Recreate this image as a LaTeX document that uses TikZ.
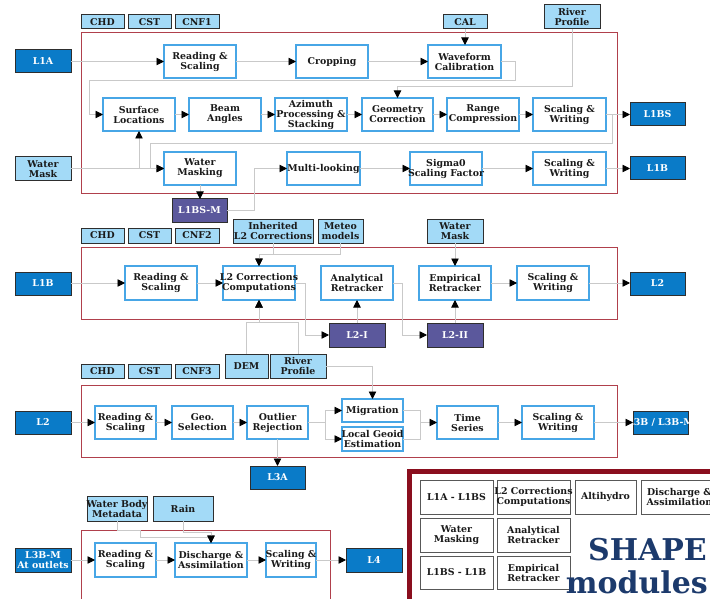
\documentclass[tikz,border=0pt]{standalone}
\usepackage{fontspec}
\setmainfont{DejaVu Serif}
\usetikzlibrary{arrows.meta}

\definecolor{procblue}{HTML}{47A6E6}
\definecolor{inpfill}{HTML}{A3DAF7}
\definecolor{outfill}{HTML}{0A7BC8}
\definecolor{midfill}{HTML}{5B589C}
\definecolor{edgedark}{HTML}{2E2E2E}
\definecolor{framered}{HTML}{B0404C}
\definecolor{legred}{HTML}{8A0E1E}
\definecolor{linegray}{HTML}{C9C9C9}
\definecolor{txtdark}{HTML}{1A1A1A}
\definecolor{navy}{HTML}{1C3A6C}

\tikzset{
  box/.style={inner sep=0pt, outer sep=0pt},
  proc/.style={box, draw=procblue, line width=1.2pt, fill=white},
  inp/.style={box, draw=edgedark, line width=1pt, fill=inpfill},
  outp/.style={box, draw=edgedark, line width=1pt, fill=outfill},
  mid/.style={box, draw=edgedark, line width=1pt, fill=midfill},
  leg/.style={box, draw=edgedark!80, line width=0.9pt, fill=white},
  lbl/.style={inner sep=0pt, align=center, text=txtdark,
    font=\fontsize{9.4}{10}\selectfont\bfseries},
  conn/.style={draw=linegray, line width=0.9pt,
    -{Triangle[length=7.5pt,width=7.5pt,color=black]}},
  sect/.style={draw=framered, line width=1pt},
}

% box with corners (x1,y1) and (x2,y2), label centred on it
\newcommand\bx[8][]{%
  \node[#2, minimum width={(#6-#4)*1pt}, minimum height={(#7-#5)*1pt},
        label={[lbl,#1]center:{#8}}] (#3) at ({(#4+#6)/2},{(#5+#7)/2}) {};}

\begin{document}
\begin{tikzpicture}[x=1pt,y=-1pt]
\useasboundingbox (0,0) rectangle (710,599);
\clip (0,0) rectangle (710,599);
\fill[white] (0,0) rectangle (710,599);

% ---------------- L1A -> L1BS / L1B ----------------
\draw[sect] (81,33) rectangle (617,194);
\bx{inp}{chdA}{81}{15}{124}{29}{CHD}
\bx{inp}{cstA}{128}{15}{171}{29}{CST}
\bx{inp}{cnfA}{175}{15}{219}{29}{CNF1}
\bx{inp}{cal}{443}{15}{487}{29}{CAL}
\bx{inp}{rpA}{544}{5}{600}{29}{River\\Profile}
\bx[text=white]{outp}{lia}{15}{50}{71}{73}{L1A}
\bx{inp}{wmA}{15}{157}{71}{181}{Water\\Mask}
\bx{proc}{rsA}{164}{45}{236}{78}{Reading \&\\Scaling}
\bx{proc}{crop}{296}{45}{368}{78}{Cropping}
\bx{proc}{wfc}{428}{45}{501}{78}{Waveform\\Calibration}
\bx{proc}{surf}{103}{98}{175}{131}{Surface\\Locations}
\bx{proc}{beam}{189}{98}{261}{131}{Beam\\Angles}
\bx{proc}{azi}{275}{98}{347}{131}{Azimuth\\Processing \&\\Stacking}
\bx{proc}{geom}{362}{98}{433}{131}{Geometry\\Correction}
\bx{proc}{rng}{447}{98}{519}{131}{Range\\Compression}
\bx{proc}{swA}{533}{98}{606}{131}{Scaling \&\\Writing}
\bx[text=white]{outp}{libs}{630}{103}{685}{126}{L1BS}
\bx{proc}{wmask}{164}{152}{236}{185}{Water\\Masking}
\bx{proc}{ml}{287}{152}{360}{185}{Multi-looking}
\bx{proc}{sig}{410}{152}{482}{185}{Sigma0\\Scaling Factor}
\bx{proc}{swB}{533}{152}{606}{185}{Scaling \&\\Writing}
\bx[text=white]{outp}{lib}{630}{157}{685}{180}{L1B}
\bx[text=white]{mid}{libsm}{172}{199}{227}{222}{L1BS-M}

\draw[conn] (lia) -- (rsA);
\draw[conn] (rsA) -- (crop);
\draw[conn] (crop) -- (wfc);
\draw[conn] (cal.south) -- (cal.south |- wfc.north);
\draw[conn] (wfc.east) -| (515,80) -| (89,114.5) -- (surf.west);
\draw[conn] (rpA.south) |- (geom.north |- 0,86) -- (geom.north);
\draw[conn] (surf) -- (beam);
\draw[conn] (beam) -- (azi);
\draw[conn] (azi) -- (geom);
\draw[conn] (geom) -- (rng);
\draw[conn] (rng) -- (swA);
\draw[conn] (swA) -- (libs);
\draw[conn] (wmA.east |- wmask.west) -- (wmask.west);
\draw[conn] (surf.south |- wmask.west) -- (surf.south);
\draw[conn] (swA.east) -| (612,143) -| (150,168.5) -- (wmask.west);
\draw[conn] (wmask.south) -- (wmask.south |- libsm.north);
\draw[conn] (libsm.east) -| (254,168.5) -- (ml.west);
\draw[conn] (ml) -- (sig);
\draw[conn] (sig) -- (swB);
\draw[conn] (swB) -- (lib);

% ---------------- L1B -> L2 ----------------
\draw[sect] (81,247) rectangle (617,319);
\bx{inp}{chdB}{81}{228}{124}{243}{CHD}
\bx{inp}{cstB}{128}{228}{171}{243}{CST}
\bx{inp}{cnfB}{175}{228}{219}{243}{CNF2}
\bx{inp}{inh}{233}{219}{313}{243}{Inherited\\L2 Corrections}
\bx{inp}{met}{318}{219}{363}{243}{Meteo\\models}
\bx{inp}{wmB}{427}{219}{483}{243}{Water\\Mask}
\bx[text=white]{outp}{libin}{15}{272}{71}{295}{L1B}
\bx{proc}{rsB}{125}{266}{197}{300}{Reading \&\\Scaling}
\bx{proc}{ltc}{223}{266}{295}{300}{L2 Corrections\\Computations}
\bx{proc}{ana}{321}{266}{393}{300}{Analytical\\Retracker}
\bx{proc}{emp}{419}{266}{491}{300}{Empirical\\Retracker}
\bx{proc}{swC}{517}{266}{589}{300}{Scaling \&\\Writing}
\bx[text=white]{outp}{ltout}{630}{272}{685}{295}{L2}
\bx[text=white]{mid}{lti}{329}{323}{385}{347}{L2-I}
\bx[text=white]{mid}{ltii}{427}{323}{483}{347}{L2-II}
\bx{inp}{dem}{225}{354}{268}{378}{DEM}
\bx{inp}{rpB}{270}{354}{326}{378}{River\\Profile}

\draw[conn] (libin.east |- rsB.west) -- (rsB.west);
\draw[conn] (rsB) -- (ltc);
\draw[conn] (inh.south) |- (ltc.north |- 0,254) -- (ltc.north);
\draw[conn] (met.south) |- (ltc.north |- 0,254) -- (ltc.north);
\draw[conn] (ltc.east) -| (305,335) -- (lti.west);
\draw[conn] (lti.north) -- (lti.north |- ana.south);
\draw[conn] (ana.east) -| (402,335) -- (ltii.west);
\draw[conn] (ltii.north) -- (ltii.north |- emp.south);
\draw[conn] (wmB.south) -- (wmB.south |- emp.north);
\draw[conn] (emp) -- (swC);
\draw[conn] (swC.east) -- (ltout.west |- swC.east);
\draw[conn] (dem.north) |- (ltc.south |- 0,322) -- (ltc.south);
\draw[conn] (rpB.north) |- (ltc.south |- 0,322) -- (ltc.south);

% ---------------- L2 -> L3 ----------------
\draw[sect] (81,385) rectangle (617,457);
\bx{inp}{chdC}{81}{364}{124}{378}{CHD}
\bx{inp}{cstC}{128}{364}{171}{378}{CST}
\bx{inp}{cnfC}{175}{364}{219}{378}{CNF3}
\bx[text=white]{outp}{ltin}{15}{411}{71}{434}{L2}
\bx{proc}{rsC}{95}{406}{156}{439}{Reading \&\\Scaling}
\bx{proc}{geo}{172}{406}{233}{439}{Geo.\\Selection}
\bx{proc}{outl}{247}{406}{308}{439}{Outlier\\Rejection}
\bx{proc}{mig}{342}{399}{403}{422}{Migration}
\bx{proc}{lge}{342}{427}{403}{451}{Local Geoid\\Estimation}
\bx{proc}{ts}{437}{406}{498}{439}{Time\\Series}
\bx{proc}{swD}{522}{406}{594}{439}{Scaling \&\\Writing}
\bx[text=white]{outp}{lthb}{633}{411}{688}{434}{L3B / L3B-M}
\bx[text=white]{outp}{ltha}{250}{466}{305}{489}{L3A}

\draw[conn] (rpB.east) -| (mig.north);
\draw[conn] (ltin) -- (rsC);
\draw[conn] (rsC) -- (geo);
\draw[conn] (geo) -- (outl);
\draw[conn] (outl.east) -- (325,422.5) |- (mig.west);
\draw[conn] (325,422.5) |- (lge.west);
\draw[conn] (outl.south) -- (outl.south |- ltha.north);
\draw[-, draw=linegray, line width=0.9pt] (mig.east) -| (420,422.5);
\draw[conn] (lge.east) -| (420,422.5) -- (ts.west);
\draw[conn] (ts) -- (swD);
\draw[conn] (swD) -- (lthb);

% ---------------- L3B-M -> L4 ----------------
\draw[sect] (81,530) rectangle (330,640);
\bx{inp}{wbm}{87}{496}{147}{521}{Water Body\\Metadata}
\bx{inp}{rain}{153}{496}{213}{521}{Rain}
\bx[text=white]{outp}{lthm}{15}{548}{71}{572}{L3B-M\\At outlets}
\bx{proc}{rsD}{95}{543}{156}{577}{Reading \&\\Scaling}
\bx{proc}{dis}{175}{543}{247}{577}{Discharge \&\\Assimilation}
\bx{proc}{swE}{266}{543}{316}{577}{Scaling \&\\Writing}
\bx[text=white]{outp}{lfour}{346}{548}{402}{572}{L4}

\draw[conn] (wbm.south) -- (117,530) -- (140,530) -- (140,537) -- (dis.north |- 0,537) -- (dis.north);
\draw[conn] (rain.south) |- (dis.north |- 0,532) -- (dis.north);
\draw[conn] (lthm) -- (rsD);
\draw[conn] (rsD) -- (dis);
\draw[conn] (dis) -- (swE);
\draw[conn] (swE) -- (lfour);

% ---------------- module key ----------------
\draw[draw=legred, line width=5pt] (409.5,471.5) rectangle (740,640);
\bx{leg}{kA}{420}{480}{493}{514}{L1A - L1BS}
\bx{leg}{kB}{497}{480}{570}{514}{L2 Corrections\\Computations}
\bx{leg}{kC}{575}{480}{636}{514}{Altihydro}
\bx{leg}{kD}{641}{480}{718}{514}{Discharge \&\\Assimilation}
\bx{leg}{kE}{420}{518}{493}{552}{Water\\Masking}
\bx{leg}{kF}{497}{518}{570}{552}{Analytical\\Retracker}
\bx{leg}{kG}{420}{556}{493}{589}{L1BS - L1B}
\bx{leg}{kH}{497}{556}{570}{589}{Empirical\\Retracker}
\node[anchor=base east, inner sep=0pt, text=navy,
      font=\fontsize{30}{30}\selectfont\bfseries] (shape) at (707,560) {SHAPE};
\node[anchor=base east, inner sep=0pt, text=navy,
      font=\fontsize{30}{30}\selectfont\bfseries] (modules) at (708,593) {modules};
\end{tikzpicture}
\end{document}
